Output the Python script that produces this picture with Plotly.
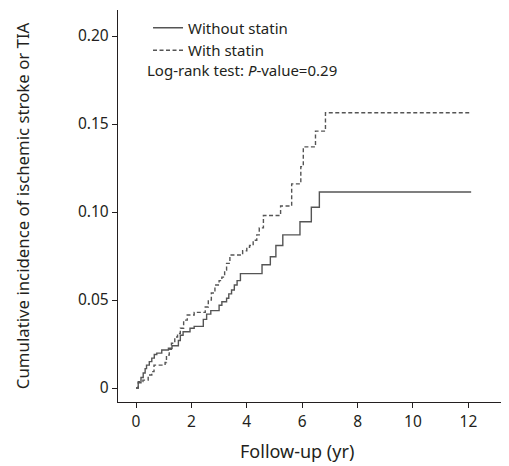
import plotly.graph_objects as go

# Follow-up time (years) and cumulative incidence - Without statin (solid)
t_without = [0, 0.08, 0.18, 0.26, 0.33, 0.38, 0.48, 0.57, 0.66, 0.75, 0.93, 1.17, 1.3, 1.53,
             1.6, 1.7, 1.95, 2.1, 2.43, 2.55, 2.7, 3.0, 3.1, 3.27, 3.35, 3.45, 3.55, 3.65,
             3.77, 4.55, 4.85, 5.05, 5.3, 5.92, 6.33, 6.62, 12.1]
v_without = [0, 0.003, 0.006, 0.0085, 0.011, 0.013, 0.015, 0.017, 0.019, 0.0198, 0.0216, 0.0226,
             0.024, 0.027, 0.030, 0.032, 0.034, 0.035, 0.039, 0.042, 0.044, 0.047, 0.049, 0.051,
             0.0535, 0.0557, 0.0585, 0.061, 0.065, 0.070, 0.0746, 0.081, 0.087, 0.0945, 0.1027,
             0.1114, 0.1114]

# With statin (dashed)
t_with = [0, 0.08, 0.25, 0.44, 0.57, 0.65, 1.05, 1.1, 1.2, 1.28, 1.4, 1.5, 1.6, 1.72, 1.85,
          2.1, 2.5, 2.61, 2.72, 2.85, 3.0, 3.1, 3.2, 3.27, 3.39, 3.85, 4.0, 4.1, 4.23, 4.36,
          4.45, 4.6, 5.22, 5.62, 5.95, 6.04, 6.48, 6.84, 12.03]
v_with = [0, 0.0036, 0.0045, 0.0074, 0.0093, 0.013, 0.0145, 0.0187, 0.022, 0.0254, 0.029,
          0.031, 0.034, 0.0386, 0.0415, 0.043, 0.046, 0.050, 0.054, 0.0585, 0.061, 0.063,
          0.067, 0.0708, 0.0756, 0.078, 0.080, 0.081, 0.084, 0.087, 0.091, 0.098, 0.1034,
          0.116, 0.1258, 0.137, 0.146, 0.1564, 0.1564]

x_ticks = [0, 2, 4, 6, 8, 10, 12]
y_ticks = [0, 0.05, 0.10, 0.15, 0.20]
y_tick_labels = ["0", "0.05", "0.10", "0.15", "0.20"]

FONT = "Noto Sans, Open Sans, sans-serif"
TXT = "#231f20"
LINE = "#555555"

fig = go.Figure()
fig.add_trace(go.Scatter(x=t_without, y=v_without, mode="lines", line_shape="hv",
                         name="Without statin",
                         line=dict(color=LINE, width=1.4, dash="solid")))
fig.add_trace(go.Scatter(x=t_with, y=v_with, mode="lines", line_shape="hv",
                         name="With statin",
                         line=dict(color=LINE, width=1.4, dash="4px,2.5px")))

fig.update_layout(
    width=501, height=458,
    margin=dict(l=110, r=6, t=2, b=64),
    paper_bgcolor="white", plot_bgcolor="white",
    font=dict(family=FONT, size=15, color=TXT),
    showlegend=True,
    legend=dict(x=0.078, y=0.996, xanchor="left", yanchor="top",
                bgcolor="rgba(0,0,0,0)", borderwidth=0,
                font=dict(size=15, color=TXT), tracegroupgap=0),
    xaxis=dict(range=[-0.65, 13.25], tickmode="array", tickvals=x_ticks,
               ticks="outside", ticklen=5, tickwidth=1.2, tickcolor="#231f20",
               showline=True, linecolor="#231f20", linewidth=1.4, automargin=False,
               showgrid=False, zeroline=False, tickfont=dict(size=15.5)),
    yaxis=dict(range=[-0.00795, 0.2148], tickmode="array", tickvals=y_ticks,
               ticktext=y_tick_labels, automargin=False,
               ticks="outside", ticklen=5, tickwidth=1.2, tickcolor="#231f20",
               showline=True, linecolor="#231f20", linewidth=1.4,
               showgrid=False, zeroline=False, tickfont=dict(size=15.5)),
    annotations=[
        dict(text="Log-rank test: <i>P</i>-value=0.29", xref="paper", yref="paper",
             x=0.072, y=0.847, xanchor="left", yanchor="middle", showarrow=False,
             borderpad=0, font=dict(size=15, color=TXT)),
        dict(text="Follow-up (yr)", xref="paper", yref="paper",
             x=0.465, y=-0.1607, xanchor="center", yanchor="bottom", showarrow=False,
             font=dict(size=18, color=TXT)),
        dict(text="Cumulative incidence of ischemic stroke or TIA", xref="paper", yref="paper",
             x=-0.249, y=0.5, xanchor="center", yanchor="middle", showarrow=False,
             textangle=-90, font=dict(size=16.8, color=TXT)),
    ],
)

fig.write_html("out.html")
